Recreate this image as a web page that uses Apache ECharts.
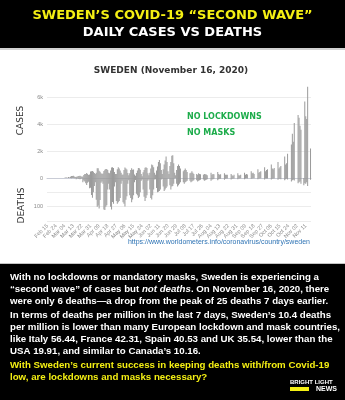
<!DOCTYPE html>
<html><head><meta charset="utf-8">
<script src="https://cdn.jsdelivr.net/npm/echarts@6/dist/echarts.min.js"></script>
<style>html,body{margin:0;padding:0;background:#fff}#c{width:345px;height:400px}</style>
</head><body><div id="c"></div>
<script>
// Date categories: Feb 15 – Nov 16, 2020
const monthSpans = [['Feb',15,29],['Mar',1,31],['Apr',1,30],['May',1,31],['Jun',1,30],['Jul',1,31],['Aug',1,31],['Sep',1,30],['Oct',1,31],['Nov',1,16]];
const categories = [];
monthSpans.forEach(function(s){for(let d=s[1];d<=s[2];d++) categories.push(s[0]+' '+String(d).padStart(2,'0'));});

// Daily cases (Sat..Fri rows)
const cases = [
0,0,0,0,0,0,0,
0,0,0,0,1,5,1,
5,1,1,2,22,28,36,
24,66,45,101,145,140,160,
116,75,97,91,145,143,160,
135,89,115,231,294,300,370,
290,230,260,480,500,520,460,
380,290,390,730,720,540,460,
350,300,330,520,610,680,680,
600,390,360,550,780,800,750,
440,300,290,650,810,700,560,
400,240,270,590,790,700,640,
380,210,350,600,720,620,630,
270,160,380,550,750,730,620,
300,130,420,600,770,810,750,
350,200,400,700,1000,950,800,
400,250,550,850,1200,1350,1100,
600,300,650,1000,1300,1600,1200,
500,300,900,1200,1650,1700,1100,
400,200,600,900,1000,900,700,
0,0,500,600,700,600,450,
0,0,350,400,500,400,300,
0,0,300,250,350,300,280,
0,0,250,300,280,260,200,
0,0,0,400,250,300,280,
0,0,0,450,300,250,280,
0,0,0,350,250,250,240,
0,0,0,300,200,150,250,
0,0,0,350,200,180,250,
0,0,0,400,250,300,270,
0,0,0,500,350,400,300,
0,0,0,650,400,450,500,
0,0,0,800,500,600,650,
0,0,0,1000,700,650,750,
0,0,0,1200,700,800,900,
0,0,0,1600,1000,1100,1800,
0,0,0,2500,3300,2700,4100,
0,0,0,4700,4500,3900,3600,
0,0,0,5700,4600,4400,6800,
0,0,2200
];

// Daily deaths (Sat..Fri rows)
const deaths = [
0,0,0,0,0,0,0,
0,0,0,0,0,0,0,
0,0,0,0,0,0,0,
0,0,0,0,1,0,0,
1,0,4,1,3,3,4,
3,1,15,9,12,18,24,
17,13,36,34,59,69,50,
28,15,76,100,96,106,77,
17,12,20,110,112,100,95,
40,20,40,100,110,84,90,
30,15,80,90,85,80,70,
20,10,85,90,99,76,64,
20,8,60,70,85,75,60,
15,7,55,60,70,65,50,
10,5,40,65,80,70,60,
10,5,40,70,75,60,40,
5,4,35,50,48,45,40,
5,3,30,45,40,35,30,
3,2,25,40,30,28,20,
2,1,20,30,25,20,15,
0,0,15,20,15,12,10,
0,0,10,15,12,10,8,
0,0,8,12,10,8,6,
0,0,5,10,8,6,4,
0,0,0,10,5,4,3,
0,0,0,8,4,3,3,
0,0,0,6,3,2,2,
0,0,0,5,3,2,2,
0,0,0,4,2,2,1,
0,0,0,4,2,1,2,
0,0,0,3,2,1,1,
0,0,0,4,2,2,1,
0,0,0,5,2,2,2,
0,0,0,5,3,2,2,
0,0,0,6,3,3,4,
0,0,0,8,4,3,5,
0,0,0,12,8,6,9,
0,0,0,18,15,12,20,
0,0,25,18,20,15,28,
0,0,6
];

const caseTickValues = [0,2000,4000,6000];
const caseTickLabels = ['0','2k','4k','6k'];
const deathTickValues = [100];
const deathTickLabels = ['100'];

const YEL = '#f4ef13';
const chart = echarts.init(document.getElementById('c'), null, {renderer:'canvas'});

function txt(x,y,text,font,fill,align,extra){
  const o = {type:'text', x:x, y:y, silent:true, z:10,
    style:{text:text, font:font, fill:fill, textAlign:align||'left', textVerticalAlign:'middle', align:align||'left', verticalAlign:'middle'}};
  if(extra) Object.assign(o, extra);
  return o;
}
const FB = 'bold 9.7px "Liberation Sans", Arial, sans-serif';

const option = {
  animation:false,
  backgroundColor:'#ffffff',
  grid:[
    {left:47, right:34, top:97.5, height:80.5},
    {left:47, right:34, top:178, height:43}
  ],
  xAxis:[
    {gridIndex:0, type:'category', data:categories,
     axisLine:{show:true, lineStyle:{color:'#c9ccd6', width:1}}, axisTick:{show:false}, axisLabel:{show:false}, splitLine:{show:false}},
    {gridIndex:1, type:'category', data:categories,
     axisLine:{show:false, onZero:false}, axisTick:{show:false}, splitLine:{show:false},
     axisLabel:{interval:8, rotate:45, fontSize:5.5, color:'#8a8a8a', margin:4, fontFamily:'Liberation Sans'}}
  ],
  yAxis:[
    {gridIndex:0, type:'value', min:0, max:6000, interval:2000,
     axisLine:{show:false}, axisTick:{show:false},
     axisLabel:{fontSize:5.5, color:'#8a8a8a', margin:4, fontFamily:'Liberation Sans',
       formatter:function(v){const i=caseTickValues.indexOf(v); return i>=0?caseTickLabels[i]:'';}},
     splitLine:{lineStyle:{color:'#ececec', width:1}}},
    {gridIndex:1, type:'value', inverse:true, min:0, max:150, interval:50,
     axisLine:{show:false}, axisTick:{show:false},
     axisLabel:{fontSize:5.5, color:'#8a8a8a', margin:4, fontFamily:'Liberation Sans',
       formatter:function(v){const i=deathTickValues.indexOf(v); return i>=0?deathTickLabels[i]:'';}},
     splitLine:{lineStyle:{color:'#ececec', width:1}}}
  ],
  series:[
    {type:'bar', xAxisIndex:0, yAxisIndex:0, data:cases, barWidth:'75%', clip:false, silent:true,
     itemStyle:{color:'#9a9a9a'}},
    {type:'bar', xAxisIndex:1, yAxisIndex:1, data:deaths, barWidth:'75%', clip:false, silent:true,
     itemStyle:{color:'#9a9a9a'}}
  ],
  graphic:[
    {type:'rect', shape:{x:0,y:0,width:345,height:48}, style:{fill:'#000'}, silent:true},
    {type:'rect', shape:{x:0,y:48,width:345,height:2}, style:{fill:'#d2d2d2'}, silent:true},
    {type:'rect', shape:{x:0,y:263,width:345,height:1}, style:{fill:'#c4c4c4'}, silent:true},
    {type:'rect', shape:{x:0,y:264,width:345,height:136}, style:{fill:'#000'}, silent:true},
    txt(172.5,16,'SWEDEN’S COVID-19 “SECOND WAVE”','bold 13px "DejaVu Sans", sans-serif',YEL,'center'),
    txt(172.5,33,'DAILY CASES VS DEATHS','bold 13px "DejaVu Sans", sans-serif','#ffffff','center'),
    txt(171,71,'SWEDEN (November 16, 2020)','bold 9px "DejaVu Sans", sans-serif','#333333','center'),
    txt(187,117,'NO LOCKDOWNS','bold 8px "DejaVu Sans", sans-serif','#1dac4b','left'),
    txt(187,133,'NO MASKS','bold 8px "DejaVu Sans", sans-serif','#1dac4b','left'),
    txt(20.5,120.5,'CASES','9px "DejaVu Sans", sans-serif','#333333','center',{rotation:Math.PI/2}),
    txt(22,205.5,'DEATHS','9px "DejaVu Sans", sans-serif','#333333','center',{rotation:Math.PI/2}),
    txt(310,242,'https://www.worldometers.info/coronavirus/country/sweden','7px "Liberation Sans", sans-serif','#2f74b5','right'),
    txt(10,277,'With no lockdowns or mandatory masks, Sweden is experiencing a',FB,'#fff','left'),
    {type:'text', x:10, y:289, silent:true, z:10,
     style:{text:'{a|“second wave” of cases but }{i|not deaths}{a|. On November 16, 2020, there}',
       textVerticalAlign:'middle', verticalAlign:'middle', fill:'#fff', font:FB,
       rich:{a:{font:FB, fill:'#fff', color:'#fff'}, i:{font:'italic '+FB, fill:'#fff', color:'#fff'}}}},
    txt(10,301,'were only 6 deaths—a drop from the peak of 25 deaths 7 days earlier.',FB,'#fff','left'),
    txt(10,315,'In terms of deaths per million in the last 7 days, Sweden’s 10.4 deaths',FB,'#fff','left'),
    txt(10,327,'per million is lower than many European lockdown and mask countries,',FB,'#fff','left'),
    txt(10,339.5,'like Italy 56.44, France 42.31, Spain 40.53 and UK 35.54, lower than the',FB,'#fff','left'),
    txt(10,351.5,'USA 19.91, and similar to Canada’s 10.16.',FB,'#fff','left'),
    txt(10,365,'With Sweden’s current success in keeping deaths with/from Covid-19',FB,YEL,'left'),
    txt(10,377,'low, are lockdowns and masks necessary?',FB,YEL,'left'),
    txt(290,382,'BRIGHT LIGHT','bold 6px "Liberation Sans", sans-serif','#fff','left'),
    {type:'rect', shape:{x:290,y:387,width:19,height:4}, style:{fill:YEL}, silent:true},
    txt(337,389.5,'NEWS','bold 7px "Liberation Sans", sans-serif','#fff','right')
  ]
};
chart.setOption(option);
</script></body></html>
